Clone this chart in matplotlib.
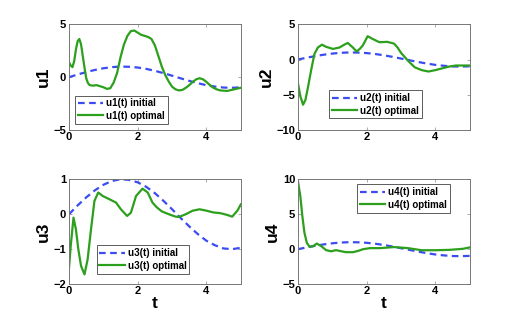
import matplotlib
matplotlib.use('Agg')
import matplotlib.pyplot as plt

# initial guess (same for all four controls)
t_init = [0, 0.25, 0.5, 0.75, 1.0, 1.25, 1.5, 1.75, 2.0, 2.25, 2.5, 2.75,
          3.0, 3.25, 3.5, 3.75, 4.0, 4.25, 4.5, 4.75, 5.0]
u_init = [0, 0.25, 0.48, 0.68, 0.84, 0.95, 1.0, 0.98, 0.91, 0.78, 0.6, 0.38,
          0.14, -0.11, -0.35, -0.57, -0.76, -0.89, -0.98, -1.0, -0.96]

# optimal controls
t1 = [0, 0.05, 0.1, 0.15, 0.2, 0.25, 0.3, 0.35, 0.4, 0.45, 0.5, 0.55, 0.6,
      0.7, 0.8, 0.9, 1.0, 1.1, 1.2, 1.3, 1.4, 1.5, 1.6, 1.7, 1.8, 1.9, 2.0,
      2.1, 2.2, 2.3, 2.4, 2.5, 2.6, 2.7, 2.8, 2.9, 3.0, 3.1, 3.2, 3.3, 3.4,
      3.5, 3.6, 3.7, 3.8, 3.9, 4.0, 4.1, 4.2, 4.3, 4.4, 4.6, 4.8, 5.0]
u1_opt = [1.4, 1.1, 0.95, 1.5, 2.6, 3.4, 3.6, 3.1, 2.0, 0.9, -0.1, -0.55,
          -0.75, -0.8, -0.75, -0.85, -0.95, -1.1, -1.05, -0.5, 0.4, 1.9, 3.1,
          3.9, 4.35, 4.4, 4.2, 4.0, 3.9, 3.8, 3.6, 3.0, 2.0, 1.0, 0.2, -0.4,
          -0.9, -1.15, -1.25, -1.2, -1.0, -0.75, -0.45, -0.2, -0.1, -0.2,
          -0.45, -0.75, -1.0, -1.15, -1.25, -1.3, -1.15, -1.0]

t2 = [0, 0.07, 0.15, 0.22, 0.29, 0.39, 0.48, 0.58, 0.7, 0.82, 1.02, 1.21,
      1.35, 1.45, 1.6, 1.71, 1.8, 1.89, 2.03, 2.18, 2.37, 2.6, 2.8, 2.9, 3.0,
      3.2, 3.4, 3.6, 3.8, 4.0, 4.2, 4.4, 4.6, 4.8, 5.0]
u2_opt = [-3.3, -5.2, -6.4, -5.7, -4.0, -1.4, 0.77, 1.7, 2.1, 1.8, 1.5, 1.7,
          2.1, 2.35, 1.7, 1.15, 1.5, 2.0, 3.3, 2.9, 2.45, 2.5, 2.25, 1.7, 0.95,
          -0.15, -1.1, -1.5, -1.7, -1.5, -1.25, -1.0, -0.85, -0.85, -0.85]

t3 = [0, 0.05, 0.13, 0.2, 0.27, 0.35, 0.45, 0.54, 0.64, 0.74, 0.85, 0.98,
      1.17, 1.37, 1.51, 1.69, 1.8, 1.95, 2.14, 2.29, 2.43, 2.55, 2.7, 2.9,
      3.1, 3.2, 3.4, 3.6, 3.8, 4.0, 4.2, 4.4, 4.6, 4.75, 4.9, 5.0]
u3_opt = [-1.53, -0.9, -0.1, -0.43, -1.0, -1.48, -1.72, -1.3, -0.43, 0.38,
          0.62, 0.52, 0.43, 0.33, 0.14, -0.05, 0.04, 0.52, 0.73, 0.62, 0.33,
          0.2, 0.08, 0.0, -0.07, -0.08, 0.0, 0.1, 0.14, 0.1, 0.05, 0.03, -0.02,
          -0.07, 0.1, 0.28]

t4 = [0, 0.07, 0.13, 0.19, 0.26, 0.34, 0.44, 0.55, 0.68, 0.82, 0.97, 1.11,
      1.26, 1.4, 1.6, 1.75, 1.9, 2.1, 2.4, 2.8, 3.2, 3.6, 4.0, 4.4, 4.8, 5.0]
u4_opt = [9.75, 7.6, 4.7, 2.35, 0.9, 0.33, 0.43, 0.8, 0.43, -0.14, -0.3,
          -0.14, -0.3, -0.43, -0.43, -0.25, 0.0, 0.15, 0.15, 0.3, 0.15, -0.15,
          -0.15, -0.1, 0.05, 0.25]

panels = [
    ('u1', t1, u1_opt, (-5, 5), [-5, 0, 5], (0.035, 0.06), 'lower left'),
    ('u2', t2, u2_opt, (-10, 5), [-10, -5, 0, 5], (0.18, 0.11), 'lower left'),
    ('u3', t3, u3_opt, (-2, 1), [-2, -1, 0, 1], (0.16, 0.1), 'lower left'),
    ('u4', t4, u4_opt, (-5, 10), [-5, 0, 5, 10], (0.885, 0.95), 'upper right'),
]
positions = [
    [0.133, 0.602, 0.331, 0.324],
    [0.574, 0.602, 0.331, 0.324],
    [0.133, 0.131, 0.331, 0.321],
    [0.574, 0.131, 0.331, 0.321],
]

plt.rcParams['font.family'] = ['Liberation Sans', 'DejaVu Sans']
plt.rcParams['font.weight'] = 'bold'

fig = plt.figure(figsize=(5.19, 3.27), dpi=100)

for i, (name, t, u_opt, ylim, yticks, legpos, legloc) in enumerate(panels):
    ax = fig.add_axes(positions[i])
    ax.plot(t_init, u_init, '--', color='#3b4cf0', lw=1.6, dashes=(3, 2),
            label=name + '(t) initial')
    ax.plot(t, u_opt, '-', color='#2ca01c', lw=1.6, label=name + '(t) optimal')
    ax.set_xlim(0, 5)
    ax.set_ylim(*ylim)
    ax.set_xticks([0, 2, 4])
    ax.set_yticks(yticks)
    ax.tick_params(direction='in', length=2, labelsize=8, width=0.5, color='#888888',
                   top=True, right=True)
    ax.tick_params(axis='x', pad=1.5)
    ax.tick_params(axis='y', pad=2)
    for lab in ax.get_xticklabels() + ax.get_yticklabels():
        lab.set_fontweight('bold')
    for s in ax.spines.values():
        s.set_color('#777777')
        s.set_linewidth(0.7)
    ax.set_ylabel(name, fontsize=12.5, fontweight='bold', labelpad=2)
    if i >= 2:
        ax.set_xlabel('t', fontsize=12.5, fontweight='bold', labelpad=0)
    leg = ax.legend(loc=legloc, bbox_to_anchor=legpos, fontsize=7, frameon=True,
                    fancybox=False, handlelength=2.6, handletextpad=0.3,
                    borderpad=0.3, labelspacing=0.25, borderaxespad=0)
    leg.get_frame().set_edgecolor('#333333')
    leg.get_frame().set_linewidth(0.7)
    for txt in leg.get_texts():
        txt.set_fontweight('bold')

fig.savefig('out.png', dpi=100)
